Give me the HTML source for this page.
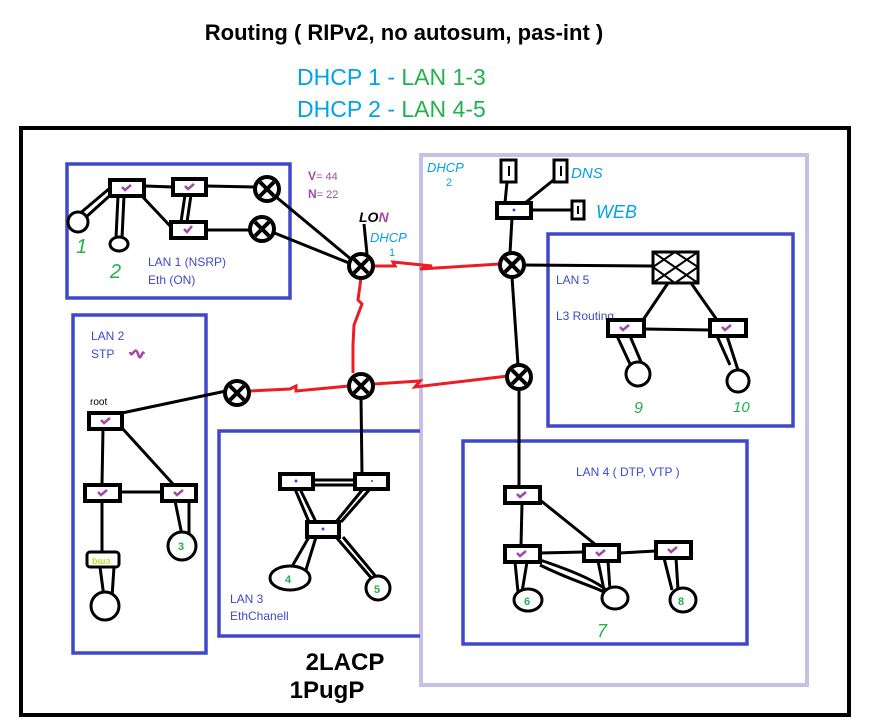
<!DOCTYPE html>
<html><head><meta charset="utf-8"><style>
html,body{margin:0;padding:0;background:#fff;width:870px;height:727px;overflow:hidden}
svg{display:block}
</style></head><body>
<svg width="870" height="727" viewBox="0 0 870 727" xmlns="http://www.w3.org/2000/svg" font-family="Liberation Sans, sans-serif">
<defs>
<g id="rt"><circle r="12" fill="#fff" stroke="#000" stroke-width="4"/><path d="M-7,-7L7,7M7,-7L-7,7" stroke="#000" stroke-width="4"/></g>
</defs>
<text x="404" y="40" text-anchor="middle" font-size="22" font-weight="bold">Routing ( RIPv2, no autosum, pas-int )</text>
<text x="297" y="85" font-size="23"><tspan fill="#00a2e8">DHCP 1 - </tspan><tspan fill="#22b14c">LAN 1-3</tspan></text>
<text x="297" y="117" font-size="23"><tspan fill="#00a2e8">DHCP 2 - </tspan><tspan fill="#22b14c">LAN 4-5</tspan></text>

<rect x="21" y="128" width="828" height="587" fill="none" stroke="#000" stroke-width="4"/>
<rect x="421" y="155" width="386" height="530" fill="none" stroke="#c8bfe7" stroke-width="4"/>
<g fill="none" stroke="#3f48cc" stroke-width="3.5">
<rect x="67" y="164" width="223" height="134"/>
<rect x="73" y="315" width="133" height="338"/>
<path d="M420,431H219V636H420"/>
<rect x="548" y="234" width="245" height="192"/>
<rect x="463" y="441" width="284" height="203"/>
</g>
<g fill="#3f48cc" font-size="12">
<text x="148" y="266">LAN 1 (NSRP)</text><text x="148" y="284">Eth (ON)</text>
<text x="91" y="340">LAN 2</text><text x="91" y="358">STP</text>
<text x="230" y="603">LAN 3</text><text x="230" y="620">EthChanell</text>
<text x="556" y="284">LAN 5</text><text x="556" y="320">L3 Routing</text>
<text x="576" y="476">LAN 4  ( DTP, VTP )</text>
</g>
<text x="90" y="405" font-size="10">root</text>
<text x="345" y="670" text-anchor="middle" font-size="24" font-weight="bold">2LACP</text>
<text x="327" y="698" text-anchor="middle" font-size="24" font-weight="bold">1PugP</text>
<text x="308" y="180" fill="#a349a4" font-size="12" font-weight="bold">V<tspan font-weight="normal" font-size="11">= 44</tspan></text>
<text x="308" y="198" fill="#a349a4" font-size="12" font-weight="bold">N<tspan font-weight="normal" font-size="11">= 22</tspan></text>
<text x="359" y="222" font-size="14" font-style="italic" font-weight="bold">LO<tspan fill="#a349a4">N</tspan></text>
<text x="370" y="242" fill="#00a2e8" font-size="13" font-style="italic">DHCP</text>
<text x="389" y="256" fill="#00a2e8" font-size="11">1</text>
<text x="427" y="172" fill="#00a2e8" font-size="13" font-style="italic">DHCP</text>
<text x="446" y="186" fill="#00a2e8" font-size="11">2</text>
<text x="571" y="178" fill="#00a2e8" font-size="15" font-style="italic">DNS</text>
<text x="596" y="218" fill="#00a2e8" font-size="18" font-style="italic">WEB</text>
<g fill="#22b14c" font-size="20" font-style="italic">
<text x="76" y="253">1</text><text x="110" y="278">2</text>
<text x="634" y="413" font-size="16">9</text><text x="733" y="412" font-size="15">10</text>
<text x="597" y="637" font-size="18">7</text>
</g>

<g stroke="#000" stroke-width="3" fill="none">
<path d="M110,188L78,215M116,190L85,218M118,196L116,238M124,196L122,238M145,186L173,187M140,194L172,228M185,195L181,222M191,195L187,222M206,186L255,187M206,230L250,230M275,196L352,260M272,232L349,263M367,254L364,224"/>
<path d="M507,182L505,203M525,203L556,178M531,210L572,210M512,218L510,253M522,265L652,266M512,277L518,365M519,389L519,487"/>
<path d="M668,283L643,320M691,283L717,320M644,329L710,330M617,336L630,364M630,336L642,364M717,336L730,365M727,336L738,370"/>
<path d="M122,413L226,391M103,429L102,484M122,428L173,484M120,492L162,492M102,501L102,551M175,501L182,535M189,501L189,535M100,567L104,597M114,567L112,597"/>
<path d="M361,397L362,474M313,480L355,480M313,485L355,485M300,489L316,522M295,489L309,522M363,489L336,522M370,489L341,522M309,537L290,570M316,537L305,573M336,537L373,580M343,537L383,585"/>
<path d="M522,503L521,546M540,500L596,545M540,553L584,552M619,553L656,551M515,562L518,592M527,562L522,592M540,560C570,570 595,580 606,590M540,565C570,580 590,585 604,592M598,561L604,590M608,561L610,590M664,558L672,590M676,558L678,590"/>
</g>
<g fill="#fff" stroke="#000" stroke-width="3">
<circle cx="78" cy="222" r="10"/><ellipse cx="119" cy="244" rx="9" ry="7"/>
<circle cx="638" cy="374" r="12"/><circle cx="738" cy="381" r="11"/>
<circle cx="105" cy="606" r="14"/><circle cx="182" cy="546" r="14"/>
<ellipse cx="290" cy="578" rx="20" ry="12"/><circle cx="378" cy="588" r="12"/>
<ellipse cx="528" cy="600" rx="14" ry="11"/><ellipse cx="615" cy="598" rx="13" ry="11"/><ellipse cx="683" cy="600" rx="13" ry="12"/>
</g>
<rect x="87" y="552" width="32" height="15" rx="3" fill="#fff" stroke="#000" stroke-width="3"/>
<text x="92" y="564" fill="#b5e61d" font-size="9" font-weight="bold">ɓɯɔ</text>
<g fill="#22b14c" font-size="11" font-weight="bold"><text x="178" y="550">3</text><text x="285" y="583">4</text><text x="374" y="593">5</text><text x="524" y="605">6</text><text x="678" y="605">8</text></g>

<g stroke="#ed1c24" stroke-width="3" fill="none">
<path d="M374,266L395,266L393,262L432,266L420,269L500,264"/>
<path d="M361,278L358,300L362,304L354,325L353,345L353,373"/>
<path d="M250,391L290,389L296,386L296,391L349,386"/>
<path d="M374,384L420,381L415,387L508,376"/>
</g>

<use href="#rt" x="267" y="189"/><use href="#rt" x="262" y="229"/><use href="#rt" x="361" y="266"/>
<use href="#rt" x="512" y="265"/><use href="#rt" x="361" y="386"/><use href="#rt" x="237" y="393"/>
<use href="#rt" x="519" y="377"/>

<g fill="#fff" stroke="#000" stroke-width="4">
<rect x="110" y="180" width="34" height="16"/><rect x="173" y="179" width="33" height="16"/><rect x="171" y="222" width="35" height="16"/>
<rect x="89" y="413" width="33" height="16"/><rect x="85" y="485" width="35" height="16"/><rect x="162" y="485" width="34" height="16"/>
<rect x="280" y="474" width="33" height="15"/><rect x="355" y="474" width="33" height="15"/><rect x="307" y="522" width="32" height="15"/>
<rect x="497" y="203" width="34" height="15"/>
<rect x="608" y="320" width="36" height="16"/><rect x="710" y="320" width="36" height="16"/>
<rect x="505" y="487" width="35" height="16"/><rect x="505" y="546" width="35" height="16"/><rect x="584" y="545" width="35" height="16"/><rect x="656" y="542" width="35" height="16"/>
</g>
<g fill="#fff" stroke="#000" stroke-width="3">
<rect x="501" y="160" width="15" height="22"/><rect x="554" y="160" width="13" height="22"/><rect x="572" y="201" width="12" height="18"/>
<rect x="653" y="252" width="45" height="31"/>
</g>
<path d="M653,252L698,283M698,252L653,283M653,267L675,252L698,267L675,283Z" stroke="#000" stroke-width="2" fill="none"/>
<g stroke="#000" stroke-width="2"><path d="M509,166v10M561,166v10M578,206v8"/></g>
<g stroke="#a349a4" stroke-width="2.5" fill="none">
<path d="M122,187l3,3l6,-5M185,186l3,3l6,-5M184,229l3,3l5,-6M101,420l3,3l6,-5M98,492l3,3l6,-5M174,492l3,3l6,-5M620,327l3,3l6,-5M722,327l3,3l6,-5M517,494l3,3l6,-5M517,553l3,3l6,-5M596,552l3,3l6,-5M668,549l3,3l6,-5M130,352c2,8 5,-8 8,2s4,-6 6,0"/>
</g>
<g fill="#3f48cc"><circle cx="514" cy="210" r="1.5"/><circle cx="296" cy="481" r="1.5"/><circle cx="372" cy="481" r="1"/><circle cx="323" cy="529" r="1.5"/></g>
</svg>
</body></html>
